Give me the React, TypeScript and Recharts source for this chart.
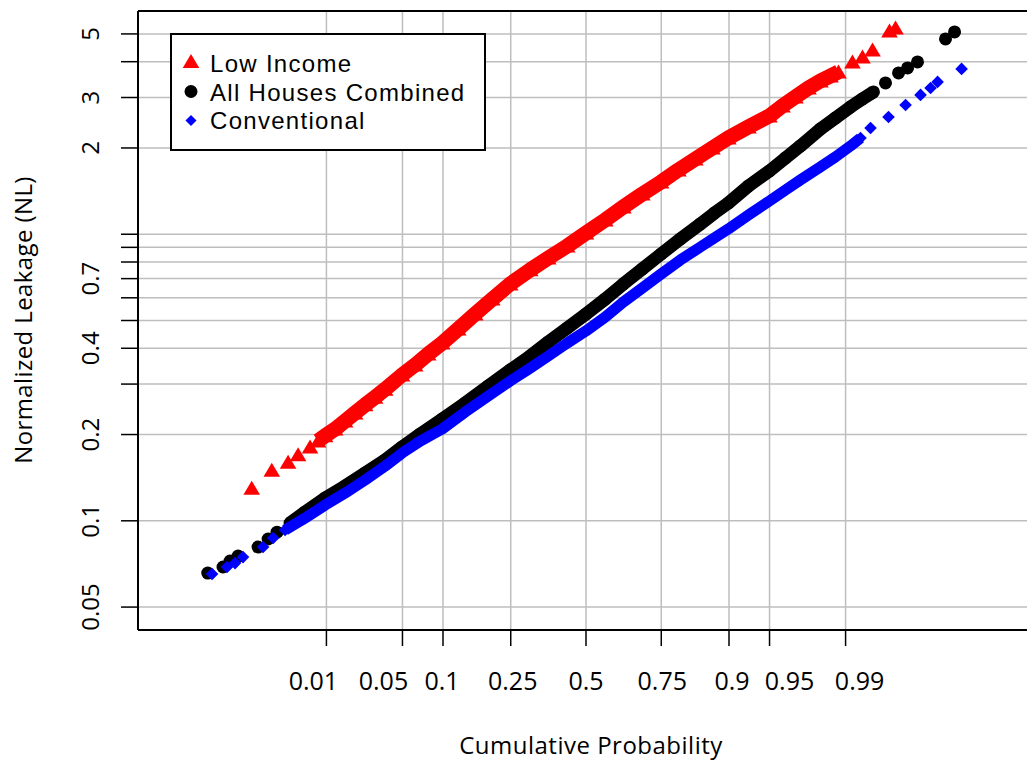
import { ScatterChart, Scatter, XAxis, YAxis, CartesianGrid, ReferenceLine, Legend } from 'recharts';

// cumulative probability ticks (x axis is the normal quantile scale)
const probTicks = [0.01, 0.05, 0.1, 0.25, 0.5, 0.75, 0.9, 0.95, 0.99];
const probLabels = ['0.01', '0.05', '0.1', '0.25', '0.5', '0.75', '0.9', '0.95', '0.99'];

// normalized leakage ticks (log axis), only some get a label
const nlTicks = [0.05, 0.1, 0.2, 0.3, 0.4, 0.5, 0.6, 0.7, 0.8, 0.9, 1, 2, 3, 4, 5];
const nlLabels = [0.05, 0.1, 0.2, 0.4, 0.7, 2, 3, 5];

// Low Income: normal scores and NL
const lowIncomeZ = [-2.996, -2.816, -2.670, -2.580, -2.473, -2.401, -2.338, -2.248, -2.159, -2.069, -1.979, -1.890, -1.800, -1.648, -1.531, -1.414, -1.289, -1.145, -0.993, -0.840, -0.679, -0.500, -0.338, -0.168, 0.000, 0.173, 0.335, 0.505, 0.673, 0.828, 0.980, 1.133, 1.276, 1.456, 1.644, 1.761, 1.877, 1.994, 2.101, 2.191, 2.263, 2.388, 2.478, 2.568, 2.720, 2.774];
const lowIncomeNL = [0.130, 0.150, 0.160, 0.170, 0.181, 0.190, 0.198, 0.209, 0.223, 0.238, 0.254, 0.270, 0.288, 0.323, 0.350, 0.382, 0.417, 0.467, 0.527, 0.594, 0.671, 0.751, 0.826, 0.910, 1.010, 1.122, 1.245, 1.382, 1.522, 1.676, 1.831, 2.000, 2.168, 2.368, 2.587, 2.804, 3.014, 3.239, 3.428, 3.568, 3.685, 3.994, 4.157, 4.398, 5.123, 5.247];

// All Houses Combined
const allZ = [-3.390, -3.253, -3.190, -3.118, -2.939, -2.849, -2.769, -2.652, -2.518, -2.338, -2.159, -1.979, -1.800, -1.648, -1.486, -1.289, -1.083, -0.876, -0.679, -0.500, -0.338, -0.168, 0.000, 0.173, 0.335, 0.505, 0.673, 0.846, 1.025, 1.151, 1.276, 1.456, 1.644, 1.788, 1.922, 2.101, 2.236, 2.371, 2.478, 2.576, 2.684, 2.801, 2.882, 2.971, 3.222, 3.303];
const allNL = [0.0657, 0.0690, 0.0724, 0.0753, 0.0810, 0.0864, 0.0913, 0.0982, 0.1073, 0.1201, 0.1322, 0.1468, 0.1630, 0.1809, 0.2008, 0.2265, 0.2576, 0.2954, 0.3359, 0.3760, 0.4207, 0.4708, 0.5268, 0.5943, 0.6706, 0.7566, 0.8532, 0.9627, 1.086, 1.186, 1.285, 1.474, 1.663, 1.846, 2.033, 2.330, 2.546, 2.781, 2.966, 3.138, 3.373, 3.655, 3.804, 3.994, 4.803, 5.082];

// Conventional
const conventionalZ = [-3.351, -3.217, -3.145, -3.074, -2.894, -2.804, -2.697, -2.518, -2.338, -2.159, -1.979, -1.800, -1.648, -1.486, -1.289, -1.083, -0.876, -0.679, -0.500, -0.338, -0.168, 0.000, 0.173, 0.335, 0.505, 0.673, 0.846, 1.025, 1.151, 1.276, 1.456, 1.644, 1.788, 1.922, 2.101, 2.236, 2.371, 2.460, 2.550, 2.711, 2.864, 2.998, 3.088, 3.151, 3.366];
const conventionalNL = [0.0652, 0.0690, 0.0712, 0.0747, 0.0810, 0.0871, 0.0929, 0.1022, 0.1135, 0.1250, 0.1388, 0.1553, 0.1724, 0.1898, 0.2091, 0.2396, 0.2725, 0.3075, 0.3413, 0.3760, 0.4173, 0.4597, 0.5142, 0.5802, 0.6493, 0.7266, 0.8131, 0.9026, 0.9705, 1.043, 1.167, 1.306, 1.427, 1.547, 1.717, 1.861, 2.033, 2.168, 2.349, 2.566, 2.826, 3.063, 3.239, 3.400, 3.775];

const FONT = "'Open Sans', sans-serif";
const LEGEND_FONT = "'Liberation Sans', Arial, sans-serif";
const X_LIM = 4.015;
const Y_MIN = 0.05 / Math.pow(10, 0.08);
const Y_MAX = 5 * Math.pow(10, 0.08);

// inverse normal cdf (Acklam)
function qnorm(p: number) {
  const a = [-39.69683028665376, 220.9460984245205, -275.9285104469687, 138.357751867269, -30.66479806614716, 2.506628277459239];
  const b = [-54.47609879822406, 161.5858368580409, -155.6989798598866, 66.80131188771972, -13.28068155288572];
  const c = [-0.007784894002430293, -0.3223964580411365, -2.400758277161838, -2.549732539343734, 4.374664141464968, 2.938163982698783];
  const d = [0.007784695709041462, 0.3224671290700398, 2.445134137142996, 3.754408661907416];
  const pl = 0.02425;
  if (p < pl) {
    const q = Math.sqrt(-2 * Math.log(p));
    return (((((c[0] * q + c[1]) * q + c[2]) * q + c[3]) * q + c[4]) * q + c[5]) / ((((d[0] * q + d[1]) * q + d[2]) * q + d[3]) * q + 1);
  }
  if (p > 1 - pl) {
    const q = Math.sqrt(-2 * Math.log(1 - p));
    return -(((((c[0] * q + c[1]) * q + c[2]) * q + c[3]) * q + c[4]) * q + c[5]) / ((((d[0] * q + d[1]) * q + d[2]) * q + d[3]) * q + 1);
  }
  const q = p - 0.5;
  const r = q * q;
  return (((((a[0] * r + a[1]) * r + a[2]) * r + a[3]) * r + a[4]) * r + a[5]) * q / (((((b[0] * r + b[1]) * r + b[2]) * r + b[3]) * r + b[4]) * r + 1);
}

const zTicks = probTicks.map(qnorm);

const toPoints = (zs: number[], nls: number[]) => zs.map((z, i) => ({ z, nl: nls[i] }));

const lowPts = toPoints(lowIncomeZ, lowIncomeNL);
const allPts = toPoints(allZ, allNL);
const convPts = toPoints(conventionalZ, conventionalNL);

// dense middle part gets a thick joining line, the sparse tails are markers only
const lowCore = lowPts.slice(5, 41);
const lowTails = [...lowPts.slice(0, 5), ...lowPts.slice(41)];
const allCore = allPts.slice(7, 40);
const allTails = [...allPts.slice(0, 7), ...allPts.slice(40)];
const convCore = convPts.slice(6, 38);
const convTails = [...convPts.slice(0, 6), ...convPts.slice(38)];

const Triangle = (props: any) => {
  const { cx, cy } = props;
  return <polygon points={`${cx},${cy - 7.5} ${cx - 8.3},${cy + 6.5} ${cx + 8.3},${cy + 6.5}`} fill="#ff0000" />;
};
const Dot = (props: any) => <circle cx={props.cx} cy={props.cy} r={6.5} fill="#000000" />;
const Diamond = (props: any) => {
  const { cx, cy } = props;
  const h = 6.3;
  return <polygon points={`${cx},${cy - h} ${cx + h},${cy} ${cx},${cy + h} ${cx - h},${cy}`} fill="#0000ff" />;
};

// label nudges as placed in the original
const xLabelShift = [-13, -19, -1, 2, 0, 1, 3, 20, 14];

const renderXTick = (props: any) => {
  const { x, index } = props;
  return (
    <text x={x + xLabelShift[index]} y={690} textAnchor="middle" fontSize={25} fontFamily={FONT} fill="#000">
      {probLabels[index]}
    </text>
  );
};

const renderYTick = (props: any) => {
  const { y, payload } = props;
  if (!nlLabels.includes(payload.value)) return <g />;
  return (
    <text x={99} y={y} transform={`rotate(-90, 99, ${y})`} textAnchor="middle" fontSize={24} fontFamily={FONT} fill="#000">
      {String(payload.value)}
    </text>
  );
};

const renderLegend = () => (
  <svg width={318} height={120} style={{ display: 'block' }}>
    <rect x={1} y={1} width={314} height={116} fill="#fff" stroke="#000" strokeWidth={2} />
    <polygon points="21,21 12.7,35 29.3,35" fill="#ff0000" />
    <circle cx={21} cy={58.5} r={6.5} fill="#000" />
    <polygon points="21,82 26.5,87.5 21,93 15.5,87.5" fill="#0000ff" />
    <g fontFamily={LEGEND_FONT} fontSize={24} letterSpacing={1.3} fill="#000">
      <text x={40} y={39}>Low Income</text>
      <text x={40} y={68}>All Houses Combined</text>
      <text x={40} y={96}>Conventional</text>
    </g>
  </svg>
);

export default function App() {
  return (
    <div style={{ position: 'absolute', left: 0, top: 0, width: 1027, height: 767, overflow: 'hidden', background: '#fff' }}>
      <ScatterChart width={1034} height={767} margin={{ top: 11, right: 0, bottom: 0, left: 0 }}>
        <CartesianGrid stroke="#bebebe" strokeWidth={1.5} />
        <XAxis
          type="number"
          dataKey="z"
          domain={[-X_LIM, X_LIM]}
          ticks={zTicks}
          interval={0}
          allowDataOverflow
          height={137}
          tickSize={16}
          tickLine={{ stroke: '#000', strokeWidth: 1.5 }}
          axisLine={{ stroke: '#000', strokeWidth: 2 }}
          tick={renderXTick}
          label={{
            value: 'Cumulative Probability',
            content: () => (
              <text x={591} y={754} textAnchor="middle" fontSize={24} letterSpacing={0.5} fontFamily={FONT} fill="#000">
                Cumulative Probability
              </text>
            ),
          }}
        />
        <YAxis
          type="number"
          dataKey="nl"
          scale="log"
          domain={[Y_MIN, Y_MAX]}
          ticks={nlTicks}
          interval={0}
          allowDataOverflow
          width={138}
          tickSize={17}
          tickLine={{ stroke: '#000', strokeWidth: 1.5 }}
          axisLine={{ stroke: '#000', strokeWidth: 2 }}
          tick={renderYTick}
          label={{
            value: 'Normalized Leakage (NL)',
            content: () => (
              <text x={32} y={320} transform="rotate(-90, 32, 320)" textAnchor="middle" fontSize={24} letterSpacing={0.4} fontFamily={FONT} fill="#000">
                Normalized Leakage (NL)
              </text>
            ),
          }}
        />
        <ReferenceLine y={Y_MAX} stroke="#000" strokeWidth={2} ifOverflow="visible" />
        <Scatter
          name="Low Income"
          data={lowCore}
          fill="#ff0000"
          shape={Triangle}
          line={{ stroke: '#ff0000', strokeWidth: 15, strokeLinejoin: 'round' }}
          isAnimationActive={false}
        />
        <Scatter name="Low Income tails" data={lowTails} fill="#ff0000" shape={Triangle} isAnimationActive={false} />
        <Scatter
          name="All Houses Combined"
          data={allCore}
          fill="#000000"
          shape={Dot}
          line={{ stroke: '#000000', strokeWidth: 13, strokeLinejoin: 'round' }}
          isAnimationActive={false}
        />
        <Scatter name="All Houses tails" data={allTails} fill="#000000" shape={Dot} isAnimationActive={false} />
        <Scatter
          name="Conventional"
          data={convCore}
          fill="#0000ff"
          shape={Diamond}
          line={{ stroke: '#0000ff', strokeWidth: 11, strokeLinejoin: 'round' }}
          isAnimationActive={false}
        />
        <Scatter name="Conventional tails" data={convTails} fill="#0000ff" shape={Diamond} isAnimationActive={false} />
        <Legend
          layout="vertical"
          align="center"
          verticalAlign="middle"
          content={renderLegend}
          wrapperStyle={{ left: 170, top: 33, width: 318, height: 120 }}
        />
      </ScatterChart>
    </div>
  );
}
